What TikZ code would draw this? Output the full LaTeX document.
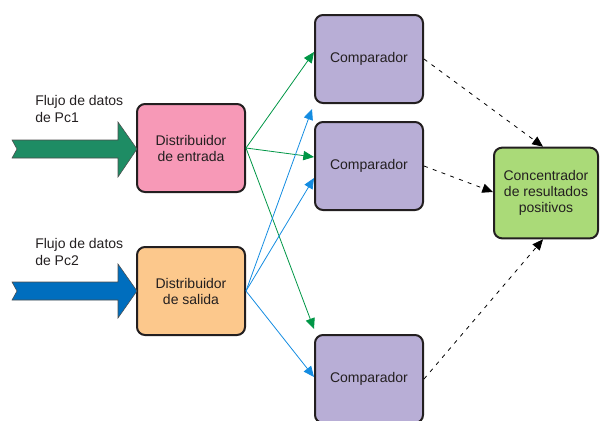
\documentclass[tikz,border=0pt]{standalone}
\usepackage{fontspec}
\setmainfont{Liberation Sans}
\usetikzlibrary{arrows.meta,calc}
\definecolor{pinkfill}{RGB}{247,153,183}
\definecolor{orangefill}{RGB}{252,200,140}
\definecolor{lavfill}{RGB}{184,174,214}
\definecolor{greenfill}{RGB}{170,218,120}
\definecolor{bigGreen}{RGB}{30,140,100}
\definecolor{bigBlue}{RGB}{0,110,190}
\definecolor{linkGreen}{RGB}{0,150,70}
\definecolor{linkBlue}{RGB}{20,140,225}
\definecolor{boxline}{RGB}{35,31,32}
\definecolor{txt}{RGB}{35,31,32}
\tikzset{
  procbox/.style={draw=boxline, line width=1.5pt, rounded corners=6pt, minimum width=81pt, minimum height=66pt, align=center, text=txt, font=\fontsize{10.5}{12}\selectfont},
  lbl/.style={align=left, anchor=west, text=txt, font=\fontsize{10.5}{12.5}\selectfont, inner sep=0pt},
  glink/.style={draw=linkGreen, line width=0.6pt, -{Triangle[length=8pt,width=7pt]}},
  blink/.style={draw=linkBlue, line width=0.6pt, -{Triangle[length=8pt,width=7pt]}},
  dlink/.style={draw=black, line width=0.6pt, dash pattern=on 3pt off 4pt, -{Triangle[length=8pt,width=7pt]}},
  bigarrow/.style={draw=black!70, line width=0.4pt}
}
\begin{document}
\begin{tikzpicture}[x=0.75pt,y=-0.75pt]
\useasboundingbox (0,0) rectangle (600,421);
\begin{scope}
\clip (0,0) rectangle (600,421);
\node[procbox, fill=pinkfill] (de) at (191,148) {Distribuidor\\de entrada};
\node[procbox, fill=orangefill] (ds) at (191,291) {Distribuidor\\de salida};
\node[procbox, fill=lavfill] (c1) at (369,59) {Comparador};
\node[procbox, fill=lavfill] (c2) at (369,166) {Comparador};
\node[procbox, fill=lavfill] (c3) at (369,379) {Comparador};
\node[procbox, fill=greenfill, minimum width=78pt, minimum height=68pt] (cr) at (546,193) {Concentrador\\de resultados\\positivos};
\end{scope}

% big input arrows
\draw[bigarrow, fill=bigGreen] (12,140) -- (118,140) -- (118,122) -- (137,149) -- (118,177) -- (118,158) -- (12,158) -- (17,149) -- cycle;
\draw[bigarrow, fill=bigBlue] (12,282) -- (118,282) -- (118,264) -- (137,291) -- (118,318) -- (118,300) -- (12,300) -- (17,291) -- cycle;

\node[lbl] (l1) at (35,109) {Flujo de datos\\de Pc1};
\node[lbl] (l2) at (35,252) {Flujo de datos\\de Pc2};

% connectors
\coordinate (deo) at (de.east);
\coordinate (dso) at (ds.east);
\draw[glink] (deo) -- ($(c1.west)+(0,-7)$);
\draw[glink] (deo) -- ($(c2.west)+(0,-9)$);
\draw[glink] (deo) -- ($(c3.north west)+(0,-5)$);
\draw[blink] (dso) -- ($(c1.south west)+(-2,5)$);
\draw[blink] (dso) -- ($(c2.west)+(0,12)$);
\draw[blink] (dso) -- ($(c3.west)+(0,-2)$);

\draw[dlink] (c1.east) -- ($(cr.north)+(-3,0)$);
\draw[dlink] (c2.east) -- ($(cr.west)+(0,-1)$);
\draw[dlink] (c3.east) -- ($(cr.south)+(-3,0)$);
\end{tikzpicture}
\end{document}
